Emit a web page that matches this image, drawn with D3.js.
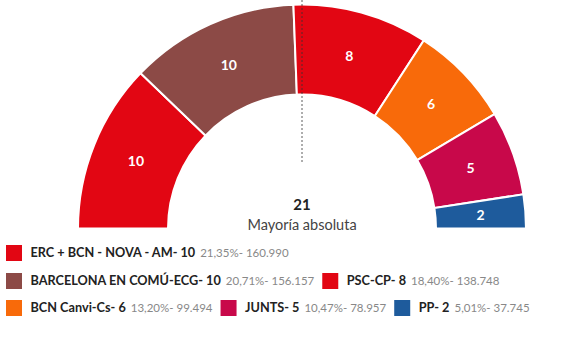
<!DOCTYPE html>
<html>
<head>
<meta charset="utf-8">
<script src="https://cdn.jsdelivr.net/npm/d3@7"></script>
<style>
  html, body { margin: 0; padding: 0; background: #fff; }
  svg { display: block; font-family: Lato, "Open Sans", sans-serif; }
</style>
</head>
<body>
<svg id="chart" width="569" height="355"></svg>
<script>
const parties = ["ERC + BCN - NOVA - AM", "BARCELONA EN COMÚ-ECG", "PSC-CP", "BCN Canvi-Cs", "JUNTS", "PP"];
const seats = [10, 10, 8, 6, 5, 2];
const percents = ["21,35%", "20,71%", "18,40%", "13,20%", "10,47%", "5,01%"];
const votes = ["160.990", "156.157", "138.748", "99.494", "78.957", "37.745"];
const colors = ["#e20613", "#8c4a46", "#e20613", "#f86a0a", "#c8084a", "#1e5b9c"];
const majority = 21;
const majorityLabel = "Mayoría absoluta";

const svg = d3.select("#chart");
const cx = 302, cy = 228.5, rOuter = 224, rInner = 134;

const data = parties.map((p, i) => ({ party: p, seats: seats[i], pct: percents[i], votes: votes[i], color: colors[i] }));

const pie = d3.pie().sort(null).value(d => d.seats)
  .startAngle(-Math.PI / 2).endAngle(Math.PI / 2);
const arc = d3.arc().innerRadius(rInner).outerRadius(rOuter);
const arcs = pie(data);

const g = svg.append("g").attr("transform", `translate(${cx},${cy})`);
g.selectAll("path.seg").data(arcs).join("path")
  .attr("class", "seg")
  .attr("d", arc)
  .attr("fill", d => d.data.color)
  .attr("stroke", "#fff")
  .attr("stroke-width", 2);

const labelArc = d3.arc().innerRadius((rInner + rOuter) / 2).outerRadius((rInner + rOuter) / 2);
g.selectAll("text.seg").data(arcs).join("text")
  .attr("class", "seg")
  .attr("transform", d => `translate(${labelArc.centroid(d)})`)
  .attr("text-anchor", "middle")
  .attr("dy", "0.35em")
  .attr("fill", "#fff")
  .attr("font-weight", "bold")
  .attr("font-size", 14)
  .text(d => d.data.seats);

// majority line
svg.append("line")
  .attr("x1", cx).attr("x2", cx)
  .attr("y1", 0).attr("y2", 162)
  .attr("stroke", "#333")
  .attr("stroke-width", 0.8)
  .attr("stroke-dasharray", "2,2");

svg.append("text")
  .attr("x", cx).attr("y", 210)
  .attr("text-anchor", "middle")
  .attr("font-weight", "bold")
  .attr("font-size", 15)
  .attr("fill", "#222")
  .text(majority);
svg.append("text")
  .attr("x", cx).attr("y", 230)
  .attr("text-anchor", "middle")
  .attr("font-size", 14.5)
  .attr("fill", "#444")
  .text(majorityLabel);

// legend (flow layout)
const legend = svg.append("g");
const rowY = [253, 281, 308];
let x = 6, row = 0;
const maxW = 562;
data.forEach((d, i) => {
  const item = legend.append("g");
  item.append("rect").attr("x", 0).attr("y", -8).attr("width", 16).attr("height", 16).attr("fill", d.color);
  const t1 = item.append("text").attr("x", 24.5).attr("y", 0).attr("dy", "0.35em")
    .attr("font-weight", "bold").attr("font-size", 12.7).attr("fill", "#222")
    .text(`${d.party}- ${d.seats}`);
  const w1 = t1.node().getComputedTextLength();
  const t2 = item.append("text").attr("x", 24.5 + w1 + 5).attr("y", 0).attr("dy", "0.35em")
    .attr("font-size", 11.5).attr("fill", "#888")
    .text(`${d.pct}- ${d.votes}`);
  const w = 24.5 + w1 + 5 + t2.node().getComputedTextLength();
  if (x > 6 && x + w > maxW) { row++; x = 6; }
  item.attr("transform", `translate(${x},${rowY[row]})`);
  x += w + 8;
});
</script>
</body>
</html>
